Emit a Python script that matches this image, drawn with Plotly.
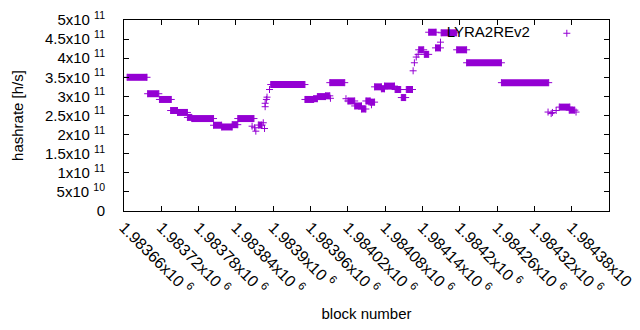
import plotly.graph_objects as go

# Piecewise-constant runs of the series (first block, last block, hashrate)
seg_start = [1983665, 1983698, 1983717, 1983735, 1983746, 1983762, 1983769, 1983804, 1983817, 1983834,
             1983843, 1983876, 1983896, 1983951, 1983965, 1983971, 1983984, 1983991, 1984020, 1984031,
             1984042, 1984049, 1984056, 1984063, 1984074, 1984079, 1984096, 1984106, 1984114, 1984134,
             1984143, 1984150, 1984161, 1984170, 1984195, 1984211, 1984267, 1984360, 1984376]
seg_end = [1983697, 1983716, 1983736, 1983746, 1983762, 1983769, 1983804, 1983817, 1983834, 1983843,
           1983869, 1983882, 1983951, 1983965, 1983971, 1983984, 1983991, 1984015, 1984031, 1984042,
           1984049, 1984056, 1984063, 1984074, 1984079, 1984095, 1984105, 1984113, 1984124, 1984142,
           1984150, 1984162, 1984169, 1984195, 1984211, 1984267, 1984343, 1984377, 1984385]
seg_value = [3.50e11, 3.07e11, 2.92e11, 2.63e11, 2.58e11, 2.45e11, 2.42e11, 2.245e11, 2.20e11, 2.26e11,
             2.42e11, 2.25e11, 3.31e11, 2.92e11, 2.94e11, 2.995e11, 3.015e11, 3.36e11, 2.88e11, 2.75e11,
             2.67e11, 2.88e11, 2.85e11, 3.25e11, 3.20e11, 3.27e11, 3.18e11, 2.97e11, 3.18e11, 4.22e11,
             4.10e11, 4.68e11, 4.27e11, 4.665e11, 4.22e11, 3.88e11, 3.36e11, 2.72e11, 2.64e11]

# Individual blocks that are not part of a run
pt_block = [1983866, 1983870, 1983872, 1983884, 1983886, 1983887, 1983887, 1983889, 1983890, 1983894,
            1983992, 1984017, 1984058, 1984125, 1984127, 1984130, 1984133, 1984169,
            1984342, 1984347, 1984349, 1984355, 1984387]
pt_value = [2.22e11, 2.18e11, 2.09e11, 2.31e11, 2.16e11, 2.82e11, 2.73e11, 2.92e11, 2.98e11, 3.18e11,
            2.95e11, 2.94e11, 2.78e11, 3.67e11, 3.88e11, 4.03e11, 4.10e11, 4.42e11,
            2.59e11, 2.55e11, 2.58e11, 2.63e11, 2.59e11]

x_ticks = [1983660 + 60 * i for i in range(14)]
x_ticktext = ["1.98366x10 <sup>6</sup>", "1.98372x10 <sup>6</sup>", "1.98378x10 <sup>6</sup>",
              "1.98384x10 <sup>6</sup>", "1.9839x10 <sup>6</sup>", "1.98396x10 <sup>6</sup>",
              "1.98402x10 <sup>6</sup>", "1.98408x10 <sup>6</sup>", "1.98414x10 <sup>6</sup>",
              "1.9842x10 <sup>6</sup>", "1.98426x10 <sup>6</sup>", "1.98432x10 <sup>6</sup>",
              "1.98438x10 <sup>6</sup>", "1.98444x10 <sup>6</sup>"]
y_ticks = [0, 5e10, 1e11, 1.5e11, 2e11, 2.5e11, 3e11, 3.5e11, 4e11, 4.5e11, 5e11]
y_ticktext = ["0", "5x10 <sup>10</sup>", "1x10 <sup>11</sup>", "1.5x10 <sup>11</sup>", "2x10 <sup>11</sup>",
              "2.5x10 <sup>11</sup>", "3x10 <sup>11</sup>", "3.5x10 <sup>11</sup>", "4x10 <sup>11</sup>",
              "4.5x10 <sup>11</sup>", "5x10 <sup>11</sup>"]

COLOR = "#9400d3"
FONT = "Liberation Sans, Arial, sans-serif"

bar_x, bar_y = [], []
for s, e, v in zip(seg_start, seg_end, seg_value):
    bar_x += [s, e, None]
    bar_y += [v, v, None]

mk_x, mk_y = [], []
for s, e, v in zip(seg_start, seg_end, seg_value):
    mk_x += [s, e]
    mk_y += [v, v]
mk_x += pt_block
mk_y += pt_value

fig = go.Figure()
fig.add_trace(go.Scatter(x=bar_x, y=bar_y, mode="lines", connectgaps=False,
                         line=dict(color=COLOR, width=7), showlegend=False,
                         name="LYRA2REv2", hoverinfo="skip"))
fig.add_trace(go.Scatter(x=mk_x, y=mk_y, mode="markers", name="",
                         hovertemplate="LYRA2REv2<br>block %{x}<br>%{y:.3s} h/s<extra></extra>",
                         marker=dict(symbol="cross-thin", size=5, color=COLOR,
                                     line=dict(color=COLOR, width=1))))

axis_common = dict(showgrid=False, zeroline=False, showline=True, linecolor="black", linewidth=1,
                   mirror="allticks", ticks="inside", ticklen=5, tickcolor="black", tickwidth=1)

fig.update_xaxes(range=[1983660, 1984440], tickmode="array", tickvals=x_ticks, ticktext=x_ticktext,
                 tickangle=45, tickfont=dict(family=FONT, size=16, color="black"),
                 title=dict(text="block number", font=dict(family=FONT, size=15, color="black"),
                            standoff=11),
                 **axis_common)
fig.update_yaxes(range=[0, 5e11], tickmode="array", tickvals=y_ticks, ticktext=y_ticktext,
                 ticklabelstandoff=15, tickfont=dict(family=FONT, size=15, color="black"),
                 title=dict(text="hashrate [h/s]", font=dict(family=FONT, size=15, color="black"),
                            standoff=17),
                 **axis_common)

fig.update_layout(width=640, height=330, margin=dict(l=116, r=39, t=12, b=127, autoexpand=False),
                  paper_bgcolor="white", plot_bgcolor="white",
                  font=dict(family=FONT, size=15, color="black"),
                  showlegend=True,
                  legend=dict(x=0.6613, y=1.0157, xanchor="left", yanchor="top",
                              bgcolor="rgba(0,0,0,0)", borderwidth=0, itemwidth=48,
                              title=dict(text="LYRA2REv2", side="left",
                                         font=dict(family=FONT, size=15, color="black")),
                              font=dict(family=FONT, size=15, color="black")))

fig.write_html("out.html")
